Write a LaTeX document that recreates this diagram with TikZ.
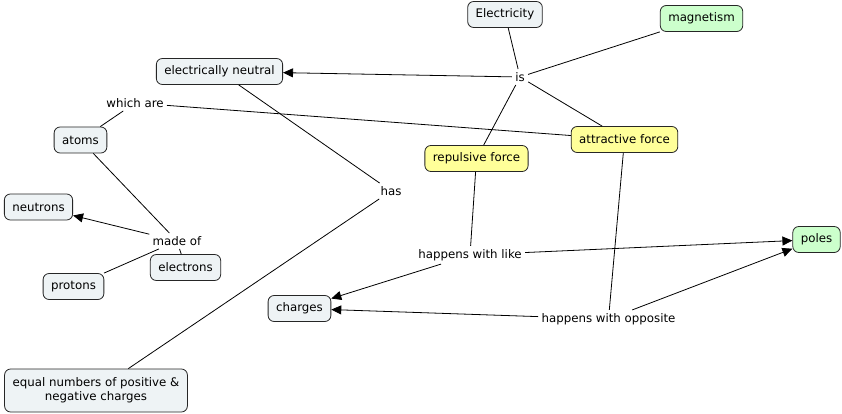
\documentclass[tikz,border=0pt]{standalone}
\usepackage{fontspec}
\setmainfont{DejaVu Sans}
\usepackage{tikz}
\usetikzlibrary{shapes,arrows.meta}
\definecolor{cgrey}{RGB}{238,243,245}
\definecolor{cgreen}{RGB}{204,255,204}
\definecolor{cyellow}{RGB}{255,255,153}
\tikzset{
	concept/.style  = {draw=black!85, line width=0.8pt, rounded corners=6pt,
		fill=cgrey, minimum height=26pt, inner xsep=8pt, font=\fontsize{11.8}{14}\selectfont},
	green/.style    = {concept, fill=cgreen},
	yellow/.style   = {concept, fill=cyellow},
	link/.style     = {inner sep=3pt, font=\fontsize{11.8}{14}\selectfont}
}

\begin{document}
\begin{tikzpicture}[x=1pt, y=-1pt, line width=0.8pt, >={Triangle[length=10pt,width=9pt]}]
	
	\useasboundingbox[fill=white] (0,0) rectangle (842,414);
	
	\draw
	node at (505,14.5) [concept] (elec) {Electricity}
	node at (701.5,18.5) [green] (magn) {magnetism}
	node at (219.5,71.5) [concept] (neut) {electrically neutral}
	node at (520,77) [link] (is) {is}
	node at (135,103) [link] (which) {which are}
	node at (80.5,140) [concept] (atoms) {atoms}
	node at (624.5,139.5) [yellow] (attr) {attractive force}
	node at (476.5,158.5) [yellow] (repul) {repulsive force}
	node at (391,191) [link] (has) {has}
	node at (38.5,207) [concept] (neutrons) {neutrons}
	node at (177,241) [link] (made) {made of}
	node at (185.5,267.5) [concept] (electrons) {electrons}
	node at (73.5,286.5) [concept] (protons) {protons}
	node at (470,255) [link] (like) {happens with like}
	node at (816.5,239.5) [green] (poles) {poles}
	node at (299.5,308.5) [concept] (charges) {charges}
	node at (608.5,319) [link] (opp) {happens with opposite}
	node at (96,390.5) [concept, align=center, minimum height=43pt] (equal) {equal numbers of positive \&\\negative charges};
	
	% is
	\draw (elec) -- (is);
	\draw (magn) -- (is);
	\draw[->] (is) -- (neut);
	\draw (is) -- (attr);
	\draw (is) -- (repul);
	
	% which are
	\draw (atoms) -- (which);
	\draw (which) -- (attr);
	
	% has
	\draw (neut) -- (has);
	\draw (has) -- (equal);
	
	% made of
	\draw (atoms) -- (made);
	\draw[->] (made) -- (neutrons);
	\draw (made) -- (protons);
	\draw (made) -- (electrons);
	
	% happens with
	\draw (repul) -- (like);
	\draw[->] (like) -- (charges);
	\draw[->] (like) -- (poles);
	\draw (attr) -- (opp);
	\draw[->] (opp) -- (charges);
	\draw[->] (opp) -- (poles);
	
\end{tikzpicture}
\end{document}
